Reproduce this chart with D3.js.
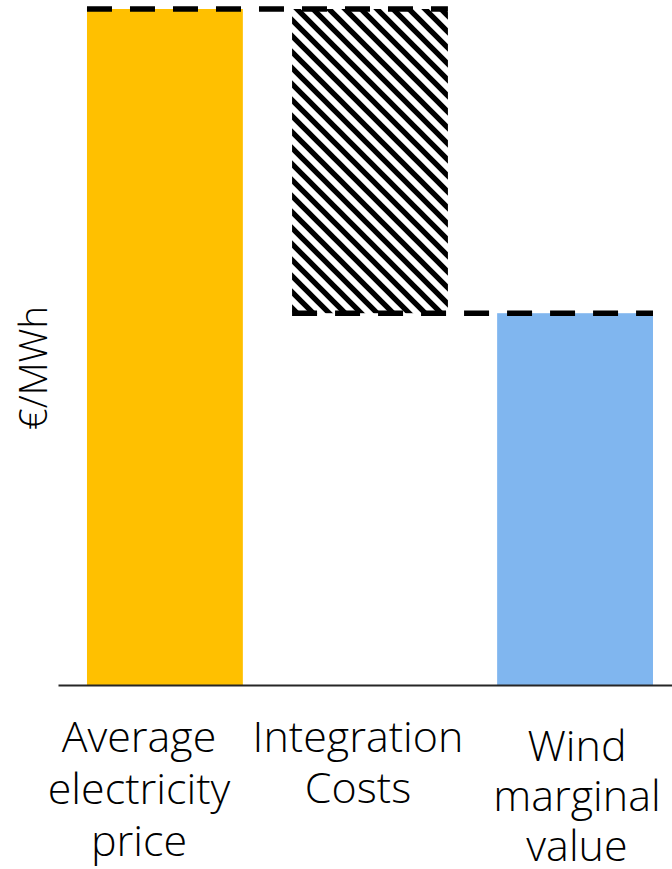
<!DOCTYPE html>
<html>
<head>
<meta charset="utf-8">
<script src="https://cdn.jsdelivr.net/npm/d3@7"></script>
<style>
  html, body { margin: 0; padding: 0; background: #fff; }
  svg { display: block; }
  text { font-family: "Open Sans", sans-serif; font-weight: 300; fill: #000; }
</style>
</head>
<body>
<div id="chart"></div>
<script>
// Waterfall: average price, minus integration costs, leaves the wind marginal value
const categories = ["Average electricity price", "Integration Costs", "Wind marginal value"];
const labelLines = [["Average", "electricity", "price"], ["Integration", "Costs"], ["Wind", "marginal", "value"]];
const values = [100, -45, 55];            // €/MWh, relative units
const kinds = ["total", "delta", "total"];
const yLabel = "€/MWh";

const W = 672, H = 869;
const svg = d3.select("#chart").append("svg").attr("width", W).attr("height", H);

// Bar extents from the running total
let running = 0;
const bars = categories.map((c, i) => {
  let lo, hi;
  if (kinds[i] === "total") { lo = 0; hi = values[i]; running = values[i]; }
  else { const next = running + values[i]; lo = Math.min(running, next); hi = Math.max(running, next); running = next; }
  return { cat: c, kind: kinds[i], lo, hi, level: running };
});

const x = d3.scaleBand().domain(categories).range([58, 672])
  .paddingInner(0.24).paddingOuter(0.117).align(0.604);
const y = d3.scaleLinear().domain([0, 100]).range([685, 9]);
const xLabel = d3.scalePoint().domain(categories).range([139, 577]);

const defs = svg.append("defs");
const hatch = defs.append("pattern").attr("id", "hatch")
  .attr("patternUnits", "userSpaceOnUse").attr("width", 16).attr("height", 16);
hatch.append("rect").attr("width", 16).attr("height", 16).attr("fill", "#fff");
hatch.append("path")
  .attr("d", "M-4,-4L20,20M-4,12L4,20M12,-4L20,4")
  .attr("stroke", "#000").attr("stroke-width", 5.4);

const fills = { "Average electricity price": "#FFC000", "Integration Costs": "url(#hatch)", "Wind marginal value": "#80B6EF" };

svg.append("g").selectAll("rect").data(bars).join("rect")
  .attr("x", d => x(d.cat))
  .attr("width", x.bandwidth())
  .attr("y", d => y(d.hi))
  .attr("height", d => y(d.lo) - y(d.hi))
  .attr("fill", d => fills[d.cat]);

// Baseline
const axis = svg.append("g").attr("transform", `translate(0,${y(0)})`)
  .call(d3.axisBottom(x).tickSize(0).tickFormat(""));
axis.select(".domain").attr("stroke", "#262626").attr("stroke-width", 2);

// Dashed connectors between consecutive bars
const links = bars.slice(0, -1).map((d, i) => ({ from: d.cat, to: bars[i + 1].cat, level: d.level }));
svg.append("g").selectAll("line").data(links).join("line")
  .attr("x1", d => x(d.from))
  .attr("x2", d => x(d.to) + x.bandwidth())
  .attr("y1", d => y(d.level))
  .attr("y2", d => y(d.level))
  .attr("stroke", "#000").attr("stroke-width", 5.5)
  .attr("stroke-dasharray", "25 18");

// Category labels
const firstBaseline = [752, 752, 761];
const lineGap = [52, 51, 50];
const lab = svg.append("g").selectAll("text").data(categories).join("text")
  .attr("text-anchor", "middle")
  .attr("font-size", 43)
  .attr("x", d => xLabel(d))
  .attr("y", (d, i) => firstBaseline[i]);
lab.each(function (d, i) {
  d3.select(this).selectAll("tspan").data(labelLines[i]).join("tspan")
    .attr("x", xLabel(d))
    .attr("dy", (t, j) => j === 0 ? 0 : lineGap[i])
    .text(t => t);
});

// Axis title
svg.append("text")
  .attr("transform", "translate(47,368) rotate(-90)")
  .attr("text-anchor", "middle")
  .attr("font-size", 38)
  .text(yLabel);
</script>
</body>
</html>
